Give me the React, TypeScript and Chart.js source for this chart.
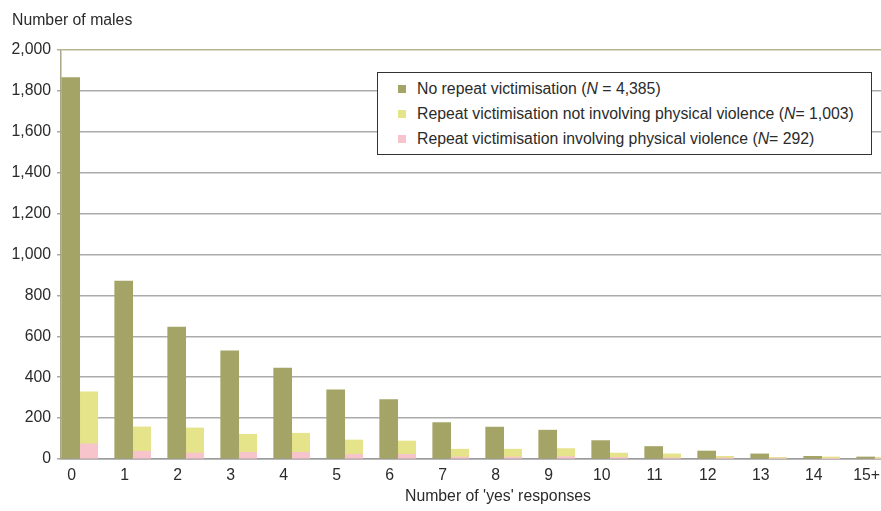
import React, { useEffect, useRef } from 'react';
import { Chart, registerables } from 'chart.js';

Chart.register(...registerables);

// ---- data ----
const categories = ['0', '1', '2', '3', '4', '5', '6', '7', '8', '9', '10', '11', '12', '13', '14', '15+'];
const noRepeat = [1865, 870, 645, 529, 444, 338, 291, 178, 156, 141, 90, 61, 39, 25, 13, 10];
const repeatNonPhysical = [255, 119, 123, 88, 93, 70, 65, 38, 38, 39, 21, 19, 8, 4, 7, 5];
const repeatPhysical = [74, 38, 29, 33, 33, 23, 23, 10, 10, 12, 8, 6, 5, 4, 3, 3];
const yMin = 0;
const yMax = 2000;
const yStep = 200;

const seriesNames = [
  { pre: 'No repeat victimisation (', n: 'N', post: ' = 4,385)' },
  { pre: 'Repeat victimisation not involving physical violence (', n: 'N', post: '= 1,003)' },
  { pre: 'Repeat victimisation involving physical violence (', n: 'N', post: '= 292)' },
];

const OLIVE = '#a3a466';
const YELLOW = '#e5e48a';
const PINK = '#f8c4cc';
const FONT = '"Liberation Sans", Arial, sans-serif';
const TEXT = '#2b2b2b';
const FS = 15.8;

export default function App() {
  const ref = useRef<HTMLCanvasElement>(null);

  useEffect(() => {
    const chart = new Chart(ref.current as HTMLCanvasElement, {
      type: 'bar',
      data: {
        datasets: [
          {
            label: seriesNames[0].pre + seriesNames[0].n + seriesNames[0].post,
            data: noRepeat.map((y, i) => ({ x: i, y })),
            backgroundColor: OLIVE,
            stack: 'a',
          },
          {
            label: seriesNames[2].pre + seriesNames[2].n + seriesNames[2].post,
            data: repeatPhysical.map((y, i) => ({ x: i, y })),
            backgroundColor: PINK,
            stack: 'b',
          },
          {
            label: seriesNames[1].pre + seriesNames[1].n + seriesNames[1].post,
            data: repeatNonPhysical.map((y, i) => ({ x: i, y })),
            backgroundColor: YELLOW,
            stack: 'b',
          },
        ] as any,
      },
      options: {
        animation: false,
        responsive: false,
        maintainAspectRatio: false,
        layout: { padding: { left: 0, right: 0, top: 50, bottom: 0 } },
        plugins: { legend: { display: false }, tooltip: { enabled: false }, title: { display: false } },
        datasets: { bar: { barThickness: 18, grouped: true, borderWidth: 0 } as any },
        scales: {
          x: {
            type: 'linear',
            min: -0.3528,
            max: 15.119,
            stacked: true,
            offset: false,
            afterBuildTicks: (s: any) => {
              s.ticks = categories.map((_, i) => ({ value: i }));
            },
            afterFit: (s: any) => {
              s.height = 52;
              s.paddingLeft = 0;
              s.paddingRight = 0;
            },
            ticks: {
              callback: (_v: any, i: number) => categories[i],
              labelOffset: -8,
              padding: 7,
              autoSkip: false,
              maxRotation: 0,
              minRotation: 0,
              color: TEXT,
              font: { family: FONT, size: FS },
            },
            grid: { display: false, drawTicks: false },
            border: { display: true, color: '#9c9c9c', width: 1.5 },
          } as any,
          y: {
            min: yMin,
            max: yMax,
            stacked: true,
            afterFit: (s: any) => {
              s.width = 61;
            },
            ticks: {
              stepSize: yStep,
              padding: 6,
              color: TEXT,
              font: { family: FONT, size: FS },
              callback: (v: any) => Number(v).toLocaleString('en-US'),
            },
            grid: {
              color: (ctx: any) => (ctx.tick && ctx.tick.value === yMax ? '#b5b592' : '#ababab'),
              lineWidth: 1.5,
              drawTicks: true,
              tickLength: 4,
            },
            border: { display: true, color: '#a8a888', width: 1.5 },
          } as any,
        },
      },
    });
    return () => chart.destroy();
  }, []);

  const legendColors = [OLIVE, YELLOW, PINK];

  return (
    <div
      style={{
        position: 'fixed',
        left: 0,
        top: 0,
        width: 881,
        height: 511,
        background: '#fff',
        fontFamily: FONT,
        fontSize: FS,
        color: TEXT,
        overflow: 'hidden',
      }}
    >
      <canvas ref={ref} width={881} height={511} style={{ display: 'block', width: 881, height: 511 }} />
      <div style={{ position: 'absolute', left: 12, top: 11, lineHeight: '18px', whiteSpace: 'nowrap' }}>
        Number of males
      </div>
      <div
        style={{
          position: 'absolute',
          left: 348,
          top: 487,
          width: 300,
          textAlign: 'center',
          lineHeight: '18px',
          whiteSpace: 'nowrap',
        }}
      >
        Number of 'yes' responses
      </div>
      <div
        style={{
          position: 'absolute',
          left: 377,
          top: 72,
          width: 495,
          height: 83,
          boxSizing: 'border-box',
          border: '1px solid #333',
          background: '#fff',
          paddingTop: 3,
        }}
      >
        {[0, 1, 2].map((k) => (
          <div key={k} style={{ position: 'relative', height: 25, lineHeight: '25px', whiteSpace: 'nowrap' }}>
            <span
              style={{
                position: 'absolute',
                left: 20,
                top: 8.5,
                width: 8,
                height: 8,
                background: legendColors[k],
              }}
            />
            <span style={{ position: 'absolute', left: 39, top: 0 }}>
              {seriesNames[k].pre}
              <i>{seriesNames[k].n}</i>
              {seriesNames[k].post}
            </span>
          </div>
        ))}
      </div>
    </div>
  );
}
